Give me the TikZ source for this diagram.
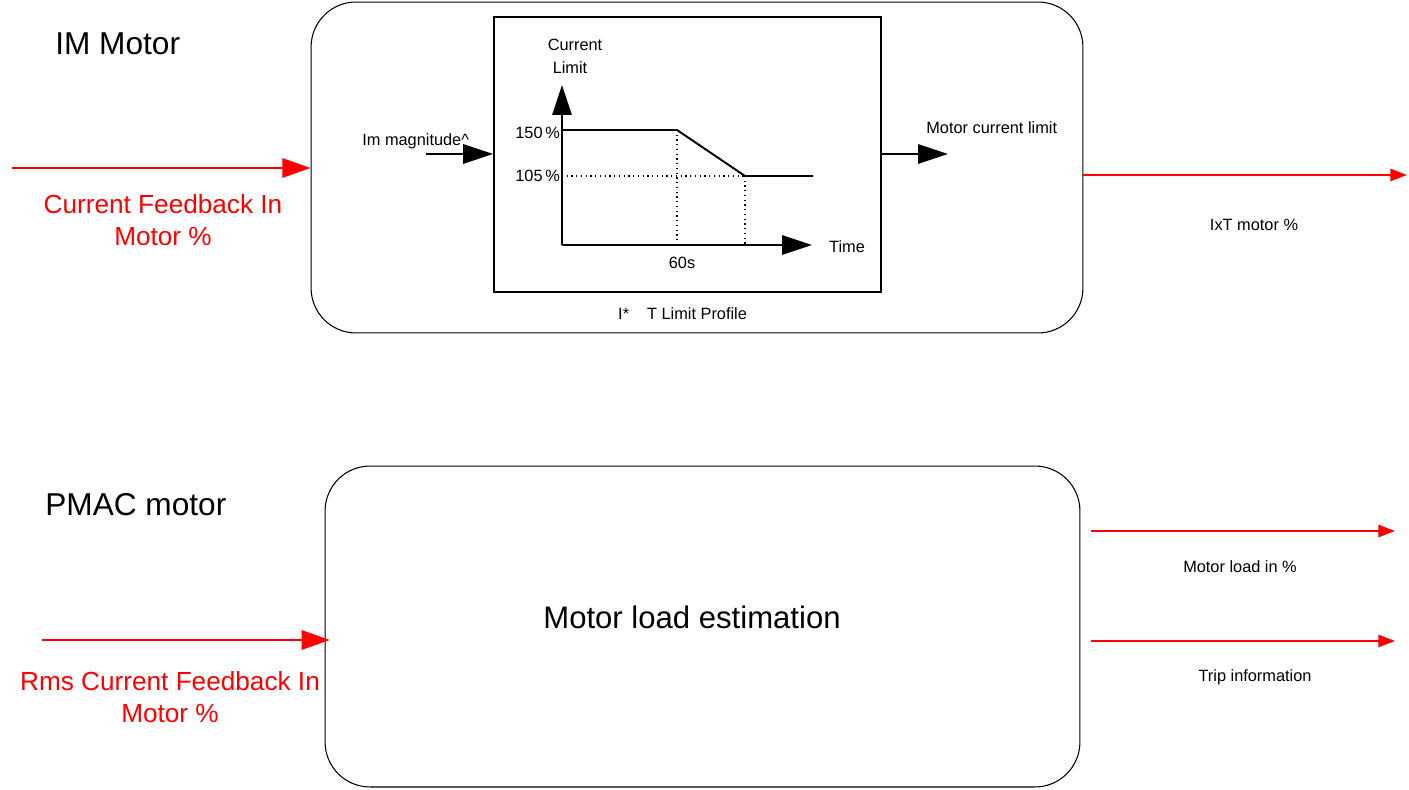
\documentclass[tikz,border=0pt]{standalone}
\usepackage{fontspec}
\setmainfont{Liberation Sans}
\usetikzlibrary{arrows.meta}

\begin{document}
\begin{tikzpicture}[x=0.02cm,y=-0.02cm,font=\fontsize{9.3}{11}\selectfont,
  roundbox/.style={draw,rounded corners=0.9cm,line width=0.6pt,inner sep=0pt},
  plainbox/.style={draw,line width=1.1pt,inner sep=0pt},
  blackflow/.style={line width=1.1pt,-{Triangle[length=17pt,width=11pt]}},
  redin/.style={red,line width=1.1pt,-{Triangle[length=16pt,width=11pt]}},
  redout/.style={red,line width=1.1pt,-{Triangle[length=9.5pt,width=7pt]}},
  redlabel/.style={text=red,font=\fontsize{14.9}{18}\selectfont,align=center},
  title/.style={font=\fontsize{18}{20}\selectfont,anchor=west,inner sep=0pt},
  guide/.style={dotted,line width=0.7pt}]
\definecolor{red}{RGB}{255,0,0}
\useasboundingbox (0,0) rectangle (1409,790);

% IM motor: I*T limit profile
\node[title] (imtitle) at (55,44) {IM Motor};
\node[roundbox,minimum width=15.44cm,minimum height=6.62cm] (imbox) at (697,167.5) {};
\node[plainbox,minimum width=7.74cm,minimum height=5.5cm] (profile) at (687.5,154.5) {};
\node[anchor=west] (caption) at (612,314) {I*\hspace{1.1em}T Limit Profile};

% axes and limit curve
\coordinate (origin) at (562,245);
\coordinate (ytip) at (562,85);
\coordinate (xtip) at (812,245);
\draw[blackflow] (origin) -- (ytip);
\draw[blackflow] (origin) -- (xtip);
\coordinate (knee) at (677,130);
\coordinate (low) at (745,176);
\draw[guide] (origin |- low) -- (low);
\draw[guide] (knee) -- (knee |- origin);
\draw[guide] (low) -- (low |- origin);
\draw[line width=1.1pt] (origin |- knee) -- (knee) -- (low) -- (813,176);
\node (ylabA) at (575,45) {Current};
\node (ylabB) at (570,68) {Limit};
\node[anchor=east,inner sep=1pt] (hi) at (562,133) {150\,\%};
\node[anchor=east,inner sep=1pt] (lo) at (562,176) {105\,\%};
\node (time) at (847,247) {Time};
\node (sixty) at (682,263) {60s};

% profile input and output
\node[anchor=west,inner sep=0pt] (imag) at (362,141) {Im magnitude\textasciicircum};
\coordinate (imagin) at (426,154);
\draw[blackflow] (imagin) -- (profile.west |- imagin);
\coordinate (limout) at (948,154);
\draw[blackflow] (profile.east |- limout) -- (limout);
\node[anchor=west,inner sep=0pt] (limlab) at (926,128) {Motor current limit};

% feedback in, IxT out
\coordinate (fbin) at (12,168);
\draw[redin] (fbin) -- (imbox.west |- fbin);
\node[redlabel] (fblab) at (163,220) {Current Feedback In\\Motor \%};
\coordinate (ixtout) at (1407,175);
\draw[redout] (imbox.east |- ixtout) -- (ixtout);
\node (ixtlab) at (1254,225) {IxT motor \%};

% PMAC motor: load estimation
\node[title] (pmtitle) at (45,505) {PMAC motor};
\node[roundbox,minimum width=15.1cm,minimum height=6.42cm] (pmbox) at (702.5,626.5) {};
\node[font=\fontsize{17.7}{20}\selectfont] (est) at (692,617) {Motor load estimation};
\coordinate (rmsin) at (42,640);
\draw[redin] (rmsin) -- ([xshift=3]pmbox.west |- rmsin);
\node[redlabel] (rmslab) at (170,697) {Rms Current Feedback In\\Motor \%};
\coordinate (loadout) at (1395,531);
\coordinate (tripout) at (1395,641);
\draw[redout] ([xshift=6]pmbox.east |- loadout) -- (loadout);
\draw[redout] ([xshift=6]pmbox.east |- tripout) -- (tripout);
\node (loadlab) at (1240,567) {Motor load in \%};
\node (triplab) at (1255,677) {Trip information};
\end{tikzpicture}
\end{document}
